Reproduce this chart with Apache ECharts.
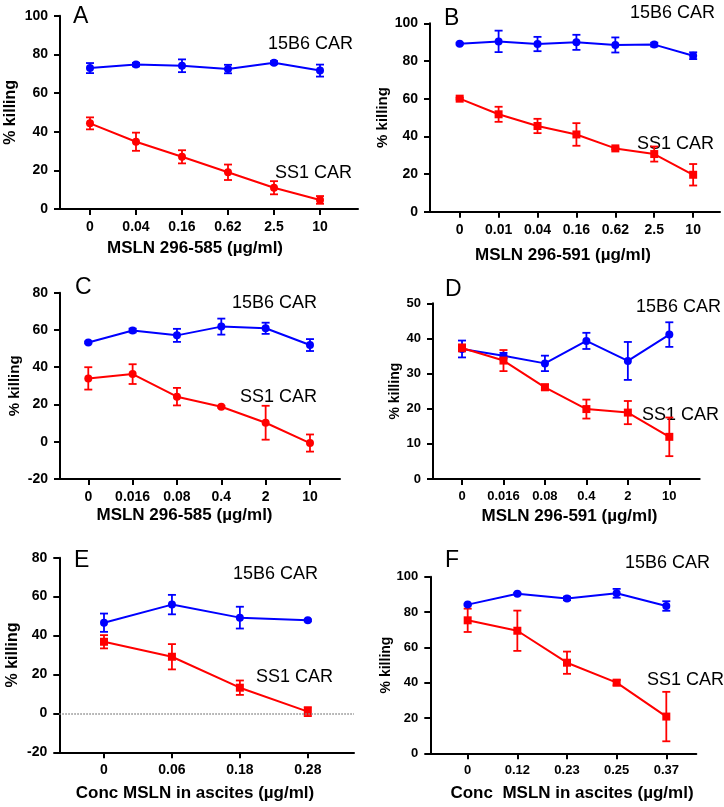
<!DOCTYPE html>
<html>
<head>
<meta charset="utf-8">
<script src="https://cdn.jsdelivr.net/npm/echarts@6/dist/echarts.min.js"></script>
<style>html,body{margin:0;padding:0;background:#fff}#c{width:724px;height:807px}</style>
</head>
<body>
<div id="c"></div>
<script>
// ---- Data ----
const aCats = ['0', '0.04', '0.16', '0.62', '2.5', '10'];
const a15B6 = [72.9, 74.7, 74.1, 72.4, 75.7, 71.6];
const a15B6Err = [2.6, 0.9, 3.3, 2.2, 0.8, 3.1];
const aSS1 = [44.3, 34.8, 27.0, 19.0, 11.0, 4.7];
const aSS1Err = [3.1, 4.7, 3.4, 4.0, 3.4, 2.0];

const bCats = ['0', '0.01', '0.04', '0.16', '0.62', '2.5', '10'];
const b15B6 = [89.2, 90.4, 89.0, 89.9, 88.5, 88.7, 82.8];
const b15B6Err = [0.5, 5.7, 3.8, 4.0, 4.0, 1.0, 1.8];
const bSS1 = [60.0, 51.7, 45.5, 41.0, 33.6, 30.6, 19.6];
const bSS1Err = [0.5, 4.0, 3.8, 6.0, 0.5, 4.0, 5.7];

const cCats = ['0', '0.016', '0.08', '0.4', '2', '10'];
const c15B6 = [53.3, 59.7, 57.1, 61.8, 60.9, 51.9];
const c15B6Err = [0.5, 1.0, 3.5, 4.3, 3.0, 3.2];
const cSS1 = [34.0, 36.3, 24.2, 18.8, 10.2, -0.7];
const cSS1Err = [6.0, 5.3, 4.7, 0.5, 9.1, 4.6];

const dCats = ['0', '0.016', '0.08', '0.4', '2', '10'];
const d15B6 = [37.0, 35.1, 32.9, 39.3, 33.6, 41.1];
const d15B6Err = [2.4, 0.8, 2.2, 2.3, 5.4, 3.5];
const dSS1 = [37.3, 33.7, 26.1, 19.9, 18.9, 12.0];
const dSS1Err = [1.0, 3.0, 0.8, 2.7, 3.3, 5.5];

const eCats = ['0', '0.06', '0.18', '0.28'];
const e15B6 = [46.6, 55.9, 49.2, 47.8];
const e15B6Err = [4.7, 5.0, 5.6, 0.5];
const eSS1 = [36.8, 29.1, 13.2, 0.9];
const eSS1Err = [3.4, 6.5, 3.7, 2.3];

const fCats = ['0', '0.12', '0.23', '0.25', '0.37'];
const f15B6 = [84.2, 90.4, 87.7, 90.6, 83.4];
const f15B6Err = [0.5, 0.5, 1.0, 2.5, 2.7];
const fSS1 = [75.3, 69.4, 51.3, 40.0, 20.8];
const fSS1Err = [6.6, 11.4, 6.3, 1.5, 14.0];

const yTitle = '% killing';
const xTitles = ['MSLN 296-585 (µg/ml)', 'MSLN 296-591 (µg/ml)', 'MSLN 296-585 (µg/ml)',
                 'MSLN 296-591 (µg/ml)', 'Conc MSLN in ascites (µg/ml)', 'Conc  MSLN in ascites (µg/ml)'];
const letters = ['A', 'B', 'C', 'D', 'E', 'F'];
const blueName = '15B6 CAR', redName = 'SS1 CAR';

// ---- Layout / style ----
const BLUE = '#0000ff', RED = '#ff0000';
const panels = [
  {cats:aCats, blue:a15B6, blueErr:a15B6Err, red:aSS1, redErr:aSS1Err, redSym:'circle',
   grid:{left:60, top:15.7, width:298, height:193.3}, xr:[-0.652, 5.826], yr:[0,100,20],
   yFont:16, yGap:41, tick:14, xt:[195,248], lt:[73,17], bl:[268,44], rl:[275,173]},
  {cats:bCats, blue:b15B6, blueErr:b15B6Err, red:bSS1, redErr:bSS1Err, redSym:'rect',
   grid:{left:430, top:23.3, width:290, height:188.4}, xr:[-0.763, 6.69], yr:[0,100,20],
   yFont:15, yGap:36, tick:14, xt:[563,255], lt:[444,19], bl:[630,13], rl:[637,144]},
  {cats:cCats, blue:c15B6, blueErr:c15B6Err, red:cSS1, redErr:cSS1Err, redSym:'circle',
   grid:{left:60, top:292.7, width:280, height:186.3}, xr:[-0.638, 5.677], yr:[-20,80,20],
   yFont:15, yGap:38, tick:14, xt:[184.5,515], lt:[75,288], bl:[232,303], rl:[240,397]},
  {cats:dCats, blue:d15B6, blueErr:d15B6Err, red:dSS1, redErr:dSS1Err, redSym:'rect',
   grid:{left:433, top:303.3, width:266.7, height:175.7}, xr:[-0.70, 5.733], yr:[0,50,10],
   yFont:14, yGap:29, tick:13, xt:[569.5,516], lt:[445,290], bl:[636,307], rl:[642,415]},
  {cats:eCats, blue:e15B6, blueErr:e15B6Err, red:eSS1, redErr:eSS1Err, redSym:'rect',
   grid:{left:59.3, top:557.7, width:294.7, height:194.6}, xr:[-0.658, 3.68], yr:[-20,80,20],
   yFont:16, yGap:39, tick:14, xt:[195,793], lt:[74,561], bl:[233,574], rl:[256,677], zeroLine:true},
  {cats:fCats, blue:f15B6, blueErr:f15B6Err, red:fSS1, redErr:fSS1Err, redSym:'rect',
   grid:{left:430.3, top:576.7, width:266, height:176.6}, xr:[-0.753, 4.604], yr:[0,100,20],
   yFont:14, yGap:34, tick:13, xt:[572,793], lt:[445,561], bl:[625,563], rl:[647,680]}
];

function errRender(color) {
  return function (params, api) {
    const x = api.value(0), lo = api.value(1), hi = api.value(2);
    const pLo = api.coord([x, lo]), pHi = api.coord([x, hi]);
    const w = 4;
    const st = {stroke: color, lineWidth: 1.8};
    return {type: 'group', children: [
      {type: 'line', shape: {x1: pLo[0], y1: pLo[1], x2: pHi[0], y2: pHi[1]}, style: st},
      {type: 'line', shape: {x1: pLo[0] - w, y1: pLo[1], x2: pLo[0] + w, y2: pLo[1]}, style: st},
      {type: 'line', shape: {x1: pHi[0] - w, y1: pHi[1], x2: pHi[0] + w, y2: pHi[1]}, style: st}
    ]};
  };
}

const grids = [], xAxes = [], yAxes = [], series = [], graphics = [];
const FONT = '"Liberation Sans", Arial, sans-serif';

panels.forEach((p, k) => {
  grids.push(Object.assign({containLabel: false}, p.grid));
  const idx = p.cats.map((_, i) => i);
  xAxes.push({
    type: 'value', gridIndex: k, min: p.xr[0], max: p.xr[1],
    axisLine: {show: true, onZero: false, lineStyle: {color: '#000', width: 2}},
    axisTick: {show: true, length: 6, lineStyle: {color: '#000', width: 2}, customValues: idx},
    axisLabel: {customValues: idx, formatter: v => p.cats[Math.round(v)], margin: 11,
                color: '#000', fontWeight: 'bold', fontSize: p.tick, fontFamily: FONT},
    splitLine: {show: false}
  });
  yAxes.push({
    type: 'value', gridIndex: k, min: p.yr[0], max: p.yr[1], interval: p.yr[2],
    name: yTitle, nameLocation: 'middle', nameGap: p.yGap, nameRotate: 90,
    nameTextStyle: {color: '#000', fontWeight: 'bold', fontSize: p.yFont, fontFamily: FONT},
    axisLine: {show: true, onZero: false, lineStyle: {color: '#000', width: 2}},
    axisTick: {show: true, length: 6, lineStyle: {color: '#000', width: 2}},
    axisLabel: {margin: 12, color: '#000', fontWeight: 'bold', fontSize: p.tick, fontFamily: FONT},
    splitLine: {show: false}
  });
  const mk = (vals, errs) => vals.map((v, i) => [i, v - errs[i], v + errs[i]]);
  series.push({type: 'custom', xAxisIndex: k, yAxisIndex: k, renderItem: errRender(BLUE),
               data: mk(p.blue, p.blueErr), z: 2, silent: true});
  series.push({type: 'custom', xAxisIndex: k, yAxisIndex: k, renderItem: errRender(RED),
               data: mk(p.red, p.redErr), z: 2, silent: true});
  series.push({type: 'line', name: blueName, xAxisIndex: k, yAxisIndex: k, z: 3,
               data: p.blue.map((v, i) => [i, v]), symbol: 'circle', symbolSize: 8,
               lineStyle: {color: BLUE, width: 2}, itemStyle: {color: BLUE}, animation: false});
  const red = {type: 'line', name: redName, xAxisIndex: k, yAxisIndex: k, z: 3,
               data: p.red.map((v, i) => [i, v]), symbol: p.redSym, symbolSize: 8,
               lineStyle: {color: RED, width: 2}, itemStyle: {color: RED}, animation: false};
  if (p.zeroLine) {
    red.markLine = {silent: true, symbol: 'none', label: {show: false},
                    lineStyle: {color: '#888', type: 'dotted', width: 1.5},
                    data: [{yAxis: 0}], animation: false};
  }
  series.push(red);
  graphics.push({type: 'text', x: p.xt[0], y: p.xt[1], style: {text: xTitles[k], fill: '#000',
      font: 'bold 17px ' + FONT, textAlign: 'center', textVerticalAlign: 'middle'}});
  graphics.push({type: 'text', x: p.lt[0], y: p.lt[1], style: {text: letters[k], fill: '#000',
      font: '23px ' + FONT, textAlign: 'left', textVerticalAlign: 'middle'}});
  graphics.push({type: 'text', x: p.bl[0], y: p.bl[1], style: {text: blueName, fill: '#000',
      font: '18px ' + FONT, textAlign: 'left', textVerticalAlign: 'middle'}});
  graphics.push({type: 'text', x: p.rl[0], y: p.rl[1], style: {text: redName, fill: '#000',
      font: '18px ' + FONT, textAlign: 'left', textVerticalAlign: 'middle'}});
});

const chart = echarts.init(document.getElementById('c'), null, {renderer: 'canvas'});
chart.setOption({
  animation: false,
  backgroundColor: '#fff',
  grid: grids, xAxis: xAxes, yAxis: yAxes, series: series,
  graphic: graphics
});
</script>
</body>
</html>
